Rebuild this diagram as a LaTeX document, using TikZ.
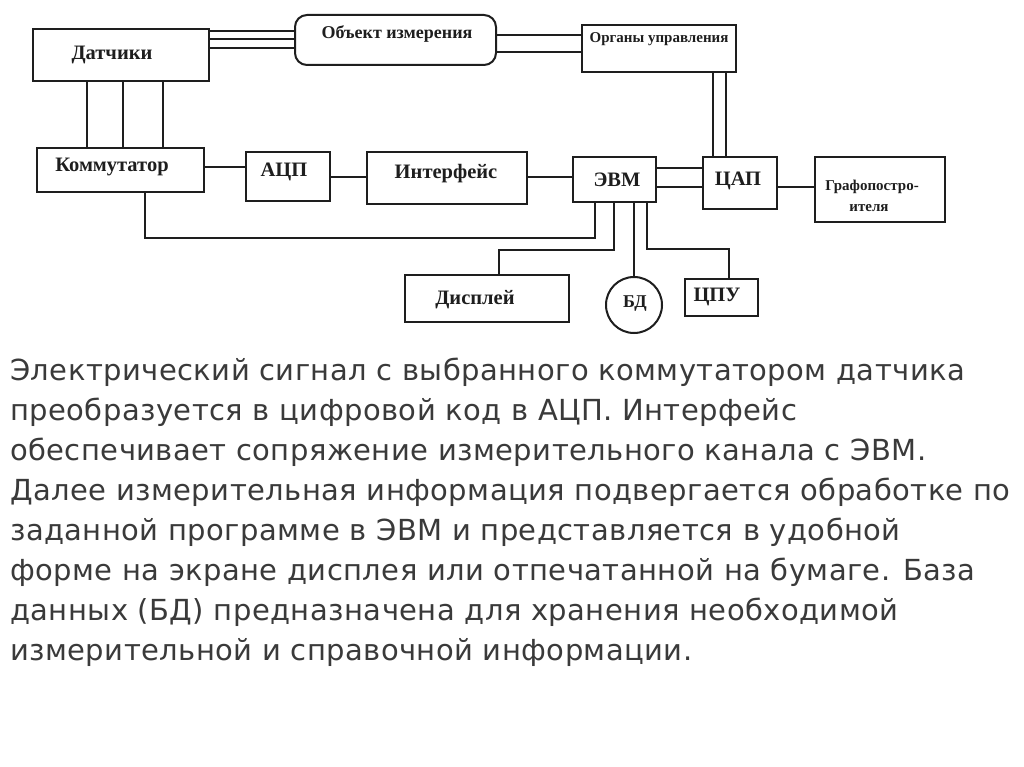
\documentclass[tikz,border=0pt]{standalone}
\usepackage{fontspec}
\setmainfont{Liberation Serif}
\newfontfamily\parafont[LetterSpace=1.5]{DejaVu Sans}
\usetikzlibrary{calc}
\definecolor{ink}{HTML}{1E1E1E}
\definecolor{para}{HTML}{3A3A3A}
\begin{document}
\begin{tikzpicture}[x=1pt,y=-1pt,
  blk/.style={draw=ink, line width=2pt, rectangle, inner sep=0pt},
  wire/.style={draw=ink, line width=1.9pt},
  lbl/.style={font=\fontsize{20.5}{22}\selectfont\bfseries, text=ink, inner sep=0pt},
  small/.style={font=\fontsize{15}{17}\selectfont\bfseries, text=ink, inner sep=0pt},
  ptxt/.style={font=\parafont\fontsize{29}{40}\selectfont, text=para, anchor=base west, inner sep=0pt}]
\useasboundingbox[fill=white] (0,0) rectangle (1024,767);
% blocks
\node[blk, minimum width=176pt, minimum height=52pt] (dat) at (121,55) {};
\node[blk, rounded corners=12pt, minimum width=201pt, minimum height=50pt] (obj) at (395.5,40) {};
\node[blk, minimum width=154pt, minimum height=47pt] (org) at (659,48.5) {};
\node[blk, minimum width=167pt, minimum height=44pt] (kom) at (120.5,170) {};
\node[blk, minimum width=84pt, minimum height=49pt] (adc) at (288,176.5) {};
\node[blk, minimum width=160pt, minimum height=52pt] (int) at (447,178) {};
\node[blk, minimum width=83pt, minimum height=45pt] (evm) at (614.5,179.5) {};
\node[blk, minimum width=74pt, minimum height=52pt] (cap) at (740,183) {};
\node[blk, minimum width=130pt, minimum height=65pt] (graf) at (880,189.5) {};
\node[blk, minimum width=164pt, minimum height=47pt] (disp) at (487,298.5) {};
\node[blk, circle, minimum size=56pt] (bd) at (634,305) {};
\node[blk, minimum width=73pt, minimum height=37pt] (cpu) at (721.5,297.5) {};
% labels
\node[lbl] (datt) at (112,55) {Датчики};
\node[lbl, font=\fontsize{18}{20}\selectfont\bfseries] (objt) at (397,34) {Объект измерения};
\node[small, font=\fontsize{15}{17}\selectfont\bfseries] (orgt) at (659,39) {Органы управления};
\node[lbl] (komt) at (112,167) {Коммутатор};
\node[lbl] (adct) at (284,172) {АЦП};
\node[lbl] (intt) at (446,174) {Интерфейс};
\node[lbl] (evmt) at (617,180) {ЭВМ};
\node[lbl] (capt) at (738,181) {ЦАП};
\node[small] (graft1) at (872,187) {Графопостро-};
\node[small] (graft2) at (869,208) {ителя};
\node[lbl] (dispt) at (475,300) {Дисплей};
\node[lbl, font=\fontsize{18}{20}\selectfont\bfseries] (bdt) at (635,304) {БД};
\node[lbl] (cput) at (717,297) {ЦПУ};
% bus levels
\coordinate (busK) at (0,238);
\coordinate (busD) at (0,250);
\coordinate (busC) at (0,249);
% connectors
\foreach \yy in {31,39,48} \draw[wire] (dat.east |- 0,\yy) -- (obj.west |- 0,\yy);
\foreach \yy in {35,52} \draw[wire] (obj.east |- 0,\yy) -- (org.west |- 0,\yy);
\foreach \xx in {87,123,163} \draw[wire] (dat.south -| \xx,0) -- (kom.north -| \xx,0);
\foreach \xx in {713,726} \draw[wire] (org.south -| \xx,0) -- (cap.north -| \xx,0);
\draw[wire] (kom.east |- 0,167) -- (adc.west |- 0,167);
\draw[wire] (adc.east |- 0,177) -- (int.west |- 0,177);
\draw[wire] (int.east |- 0,177) -- (evm.west |- 0,177);
\foreach \yy in {168,187} \draw[wire] (evm.east |- 0,\yy) -- (cap.west |- 0,\yy);
\draw[wire] (cap.east |- 0,187) -- (graf.west |- 0,187);
\draw[wire] (kom.south -| 145,0) -- (145,0 |- busK) -- (595,0 |- busK) -- (evm.south -| 595,0);
\draw[wire] (evm.south -| 614,0) -- (614,0 |- busD) -- (499,0 |- busD) -- (disp.north -| 499,0);
\draw[wire] (evm.south -| 634,0) -- (bd.north);
\draw[wire] (evm.south -| 647,0) -- (647,0 |- busC) -- (729,0 |- busC) -- (cpu.north -| 729,0);
% paragraph
\node[ptxt] (l1) at (10,380) {Электрический сигнал с выбранного коммутатором датчика};
\node[ptxt] (l2) at (10,420) {преобразуется в цифровой код в АЦП. Интерфейс};
\node[ptxt] (l3) at (10,460) {обеспечивает сопряжение измерительного канала с ЭВМ.};
\node[ptxt] (l4) at (10,500) {Далее измерительная информация подвергается обработке по};
\node[ptxt] (l5) at (10,540) {заданной программе в ЭВМ и представляется в удобной};
\node[ptxt] (l6) at (10,580) {форме на экране дисплея или отпечатанной на бумаге. База};
\node[ptxt] (l7) at (10,620) {данных (БД) предназначена для хранения необходимой};
\node[ptxt] (l8) at (10,660) {измерительной и справочной информации.};
\end{tikzpicture}
\end{document}
